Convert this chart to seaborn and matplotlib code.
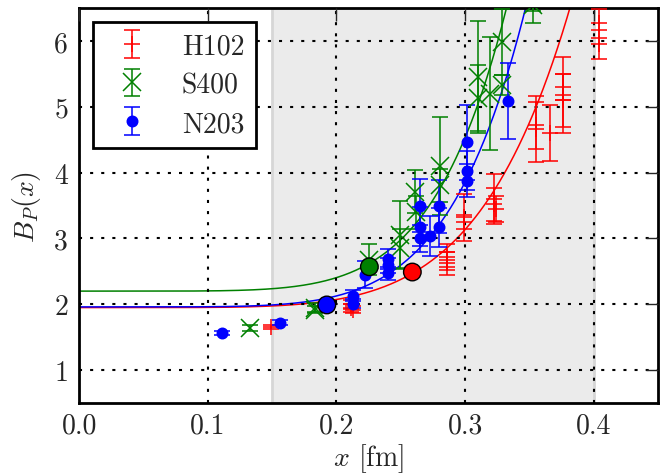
import numpy as np
import pandas as pd
import matplotlib
matplotlib.use("Agg")
import matplotlib.pyplot as plt
import seaborn as sns

# ---------------- data ----------------
ensembles = ["H102", "S400", "N203"]
colors = {"H102": "#ff0000", "S400": "#008000", "N203": "#0000ff"}

h102_x = [0.149, 0.211, 0.211, 0.213, 0.286, 0.286, 0.286, 0.299, 0.299,
          0.3225, 0.3225, 0.324, 0.355, 0.355, 0.366, 0.3765, 0.3765, 0.3765,
          0.4045, 0.4045]
h102_y = [1.657, 2.00, 1.95, 1.92, 2.72, 2.62, 2.68, 3.32, 3.25,
          3.60, 3.52, 3.45, 4.66, 4.72, 4.60, 5.18, 5.10, 5.30,
          5.95, 6.27]
h102_e = [0.03, 0.07, 0.06, 0.06, 0.20, 0.17, 0.12, 0.36, 0.10,
          0.38, 0.25, 0.20, 0.50, 0.36, 0.43, 0.58, 0.40, 0.20,
          0.22, 0.22]

s400_x = [0.133, 0.183, 0.183, 0.2256, 0.2494, 0.2494, 0.261, 0.262,
          0.2805, 0.2805, 0.310, 0.310, 0.3193, 0.3284, 0.3284, 0.353, 0.353]
s400_y = [1.64, 1.95, 1.92, 2.68, 3.05, 2.85, 3.71, 3.40,
          4.10, 3.81, 5.45, 5.13, 5.20, 5.99, 5.33, 6.55, 6.70]
s400_e = [0.04, 0.07, 0.05, 0.24, 0.52, 0.30, 0.33, 0.25,
          0.75, 0.25, 0.85, 0.50, 0.86, 0.50, 0.15, 0.28, 0.25]

n203_x = [0.1109, 0.1562, 0.2131, 0.2131, 0.222, 0.2403, 0.2403, 0.2403,
          0.265, 0.265, 0.265, 0.2727, 0.2799, 0.2799, 0.3012, 0.3012, 0.3012,
          0.3336]
n203_y = [1.565, 1.72, 2.13, 2.01, 2.45, 2.69, 2.59, 2.47,
          3.50, 3.18, 3.00, 3.04, 3.49, 3.17, 4.46, 4.03, 3.88,
          5.09]
n203_e = [0.03, 0.04, 0.08, 0.07, 0.20, 0.15, 0.12, 0.10,
          0.40, 0.30, 0.20, 0.30, 0.40, 0.30, 0.57, 0.30, 0.25,
          0.58]

# extrapolated points (large circles)
big_x = [0.259, 0.2256, 0.1925]
big_y = [2.49, 2.57, 1.99]

# fit curves  B(x) = a + b * x**n
fit_a = [1.95, 2.20, 1.96]
fit_b = [1004.0, 3200.0, 2600.0]
fit_n = [5.6, 6.0, 6.0]

# shaded window
win_lo, win_hi = 0.15, 0.40

# ---------------- style ----------------
sns.set_theme(style="white")
plt.rcParams.update({
    "font.family": "serif",
    "font.serif": ["cmr10"],
    "mathtext.fontset": "cm",
    "axes.formatter.use_mathtext": True,
    "axes.unicode_minus": False,
    "font.size": 20,
    "xtick.direction": "in",
    "ytick.direction": "in",
    "xtick.top": True,
    "ytick.right": True,
    "xtick.major.size": 9,
    "ytick.major.size": 9,
    "xtick.major.width": 1.0,
    "ytick.major.width": 1.0,
    "xtick.major.pad": 6.5,
    "ytick.major.pad": 8,
    "xtick.labelsize": 20,
    "ytick.labelsize": 20,
    "axes.edgecolor": "black",
    "axes.linewidth": 2.0,
    "lines.scale_dashes": False,
})

fig = plt.figure(figsize=(6.6, 4.77), dpi=100)
ax = fig.add_axes([0.120, 0.153, 0.997 - 0.120, 0.981 - 0.153])

ax.axvspan(win_lo, win_hi, facecolor="#ebebeb", edgecolor="#d6d6d6", lw=2, zorder=0)

# fit curves
xs = np.linspace(0.0, 0.45, 600)
rows = []
for name, a, b, n in zip(ensembles, fit_a, fit_b, fit_n):
    ys = a + b * xs ** n
    rows.append(pd.DataFrame({"x": xs, "y": ys, "ens": name}))
curves = pd.concat(rows)
sns.lineplot(data=curves, x="x", y="y", hue="ens", palette=colors, ax=ax,
             lw=1.1, legend=False, zorder=2, sort=False, estimator=None)

series = [
    ("H102", h102_x, h102_y, h102_e, "+", 11),
    ("S400", s400_x, s400_y, s400_e, "x", 13),
    ("N203", n203_x, n203_y, n203_e, "o", 7.5),
]
handles = []
for name, x, y, e, m, ms in series:
    c = colors[name]
    h = ax.errorbar(x, y, yerr=e, fmt=m, color=c, ms=ms, mew=1.1,
                    capsize=6, capthick=1.1, elinewidth=1.1, zorder=3,
                    label=name)
    handles.append(h)

big = pd.DataFrame({"x": big_x, "y": big_y, "ens": ensembles})
sns.scatterplot(data=big, x="x", y="y", hue="ens", palette=colors, s=160,
                edgecolor="black", linewidth=1.0, ax=ax, legend=False, zorder=5)

ax.set_xlim(0.0, 0.45)
ax.set_ylim(0.5, 6.5)
ax.set_xticks([0.0, 0.1, 0.2, 0.3, 0.4])
ax.set_yticks([1, 2, 3, 4, 5, 6])
ax.set_xticklabels(["0.0", "0.1", "0.2", "0.3", "0.4"])
ax.set_yticklabels(["1", "2", "3", "4", "5", "6"])
ax.grid(True, color="black", lw=1.5, linestyle=(0, (2.2, 5.8)))
ax.set_axisbelow(False)
for gl in ax.get_xgridlines() + ax.get_ygridlines():
    gl.set_zorder(1)

ax.set_xlabel(r"$x$ [fm]", fontsize=20, labelpad=2)
ax.set_ylabel(r"$B_P(x)$", fontsize=20, labelpad=8)

leg = ax.legend(handles, ensembles, loc="upper left", fontsize=20,
                frameon=True, fancybox=False, framealpha=1.0,
                edgecolor="black", labelspacing=0.45, handlelength=2.0,
                handletextpad=0.8, borderpad=0.4, borderaxespad=0.5)
leg.get_frame().set_linewidth(2.0)

fig.savefig("out.png", dpi=100)
